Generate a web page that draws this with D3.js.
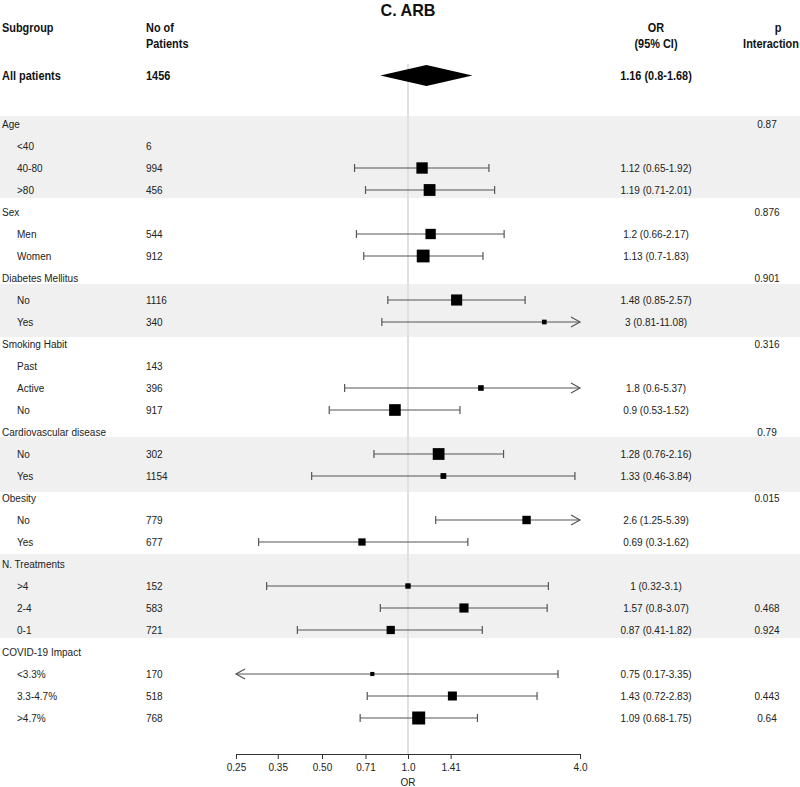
<!DOCTYPE html>
<html>
<head>
<meta charset="utf-8">
<script src="https://cdn.jsdelivr.net/npm/d3@7"></script>
<style>
  html, body { margin: 0; padding: 0; background: #fff; }
  svg { display: block; }
</style>
</head>
<body>
<svg id="chart" width="800" height="787"></svg>
<script>
// ---------------- DATA ----------------
const title = "C. ARB";
const subgroupLabels = ["Age","<40","40-80",">80","Sex","Men","Women","Diabetes Mellitus","No","Yes",
  "Smoking Habit","Past","Active","No","Cardiovascular disease","No","Yes","Obesity","No","Yes",
  "N. Treatments",">4","2-4","0-1","COVID-19 Impact","<3.3%","3.3-4.7%",">4.7%"];
const isGroupHeader = [1,0,0,0,1,0,0,1,0,0,1,0,0,0,1,0,0,1,0,0,1,0,0,0,1,0,0,0];
const nPatients = [null,6,994,456,null,544,912,null,1116,340,null,143,396,917,null,302,1154,null,779,677,null,152,583,721,null,170,518,768];
const orValues  = [null,null,1.12,1.19,null,1.2,1.13,null,1.48,3,null,null,1.8,0.9,null,1.28,1.33,null,2.6,0.69,null,1,1.57,0.87,null,0.75,1.43,1.09];
const ciLower   = [null,null,0.65,0.71,null,0.66,0.7,null,0.85,0.81,null,null,0.6,0.53,null,0.76,0.46,null,1.25,0.3,null,0.32,0.8,0.41,null,0.17,0.72,0.68];
const ciUpper   = [null,null,1.92,2.01,null,2.17,1.83,null,2.57,11.08,null,null,5.37,1.52,null,2.16,3.84,null,5.39,1.62,null,3.1,3.07,1.82,null,3.35,2.83,1.75];
const pInteraction = ["0.87","","","","0.876","","","0.901","","","0.316","","","","0.79","","","0.015","","","","","0.468","0.924","","","0.443","0.64"];
const shadedGroups = ["Age","Diabetes Mellitus","Cardiovascular disease","N. Treatments"];
const overallLabel = "All patients";
const overallN = 1456;
const overallOR = [1.16, 0.8, 1.68];
const tickValues = [0.25,0.35,0.5,0.71,1,1.41,4];
const tickLabels = ["0.25","0.35","0.50","0.71","1.0","1.41","4.0"];

// ---------------- LAYOUT ----------------
const svg = d3.select("#chart");
const W = 800, H = 787;
const bodyFont = "'Liberation Sans', Arial, sans-serif";
const headFont = "'Liberation Sans', Arial, sans-serif";
const textCol = "#222";
const narrow = 0.84;

const x = d3.scaleLog().base(2).domain([0.25, 4]).range([236, 580]);
const y = d3.scaleLinear().domain([0, 1]).range([124, 146]); // row index -> centre
const yOverall = 76;
const axisY = 754;
const colLabel = 2, colIndent = 17, colN = 146, colOR = 656, colP = 767, colPHead = 771;

// background bands (pixel extents per shaded group)
const bandExtents = {"Age":[116,198], "Diabetes Mellitus":[284,337], "Cardiovascular disease":[437,492], "N. Treatments":[554,638]};
shadedGroups.forEach(g => {
  const [t, b] = bandExtents[g];
  svg.append("rect").attr("x", 0).attr("y", t).attr("width", W).attr("height", b - t).attr("fill", "#f0f0f0");
});

// reference line at OR = 1
svg.append("line").attr("x1", x(1)).attr("x2", x(1)).attr("y1", 64).attr("y2", axisY)
  .attr("stroke", "#e0e0e0").attr("stroke-width", 2);

// condensed bold text helper
function bold(xp, yp, t, anchor, fs, sx) {
  svg.append("text")
    .attr("transform", `translate(${xp},${yp}) scale(${sx || narrow},1)`)
    .attr("text-anchor", anchor).attr("dominant-baseline", "central")
    .attr("font-family", headFont).attr("font-weight", "bold").attr("font-size", fs || 13).attr("fill", "#111")
    .text(t);
}

// title
bold(x(1), 10, title, "middle", 17, 0.95);

// headers
bold(colLabel, 28, "Subgroup", "start");
bold(colN, 28, "No of", "start");
bold(colN, 44, "Patients", "start");
bold(colOR, 28, "OR", "middle");
bold(colOR, 44, "(95% CI)", "middle");
bold(colPHead + 7, 28, "p", "middle");
bold(colPHead, 44, "Interaction", "middle");

// overall row
bold(colLabel, yOverall, overallLabel, "start");
bold(colN, yOverall, String(overallN), "start");
bold(colOR, yOverall, `${overallOR[0]} (${overallOR[1]}-${overallOR[2]})`, "middle");
const dh = 10.5, yd = 75.5;
svg.append("path")
  .attr("d", d3.line()([[x(overallOR[1]), yd],[x(overallOR[0]), yd - dh],[x(overallOR[2]), yd],[x(overallOR[0]), yd + dh]]) + "Z")
  .attr("fill", "#000");

// rows
const rows = subgroupLabels.map((lab, i) => ({
  i, lab, grp: isGroupHeader[i] === 1, n: nPatients[i], or: orValues[i], lo: ciLower[i], hi: ciUpper[i], p: pInteraction[i]
}));

const tg = svg.append("g").attr("font-family", bodyFont).attr("font-size", 10).attr("fill", textCol);
rows.forEach(r => {
  const yy = y(r.i);
  tg.append("text").attr("x", r.grp ? colLabel : colIndent).attr("y", yy).attr("dominant-baseline", "central").text(r.lab);
  if (r.n != null) tg.append("text").attr("x", colN).attr("y", yy).attr("dominant-baseline", "central").text(r.n);
  if (r.or != null) tg.append("text").attr("x", colOR).attr("y", yy).attr("text-anchor", "middle").attr("dominant-baseline", "central")
      .text(`${r.or} (${r.lo}-${r.hi})`);
  if (r.p) tg.append("text").attr("x", colP).attr("y", yy).attr("text-anchor", "middle").attr("dominant-baseline", "central").text(r.p);
});

// box size from inverse-variance weight
const est = rows.filter(r => r.or != null);
est.forEach(r => { const se = (Math.log(r.hi) - Math.log(r.lo)) / (2 * 1.96); r.w = 1 / (se * se); });
const size = d3.scaleSqrt().domain([0, d3.max(est, r => r.w)]).range([0, 13]);

const [xmin, xmax] = x.range();
const cg = svg.append("g").attr("stroke", "#555").attr("stroke-width", 1.2).attr("fill", "none");
est.forEach(r => {
  const yy = y(r.i);
  const x0 = Math.max(x(r.lo), xmin), x1 = Math.min(x(r.hi), xmax);
  cg.append("line").attr("x1", x0).attr("x2", x1).attr("y1", yy).attr("y2", yy);
  if (x(r.lo) < xmin) cg.append("path").attr("d", `M${x0 + 9},${yy - 5}L${x0},${yy}L${x0 + 9},${yy + 5}`);
  else cg.append("line").attr("x1", x0).attr("x2", x0).attr("y1", yy - 4).attr("y2", yy + 4);
  if (x(r.hi) > xmax) cg.append("path").attr("d", `M${x1 - 9},${yy - 5}L${x1},${yy}L${x1 - 9},${yy + 5}`);
  else cg.append("line").attr("x1", x1).attr("x2", x1).attr("y1", yy - 4).attr("y2", yy + 4);
});
svg.append("g").selectAll("rect").data(est).join("rect")
  .attr("x", r => x(r.or) - size(r.w) / 2).attr("y", r => y(r.i) - size(r.w) / 2)
  .attr("width", r => size(r.w)).attr("height", r => size(r.w)).attr("fill", "#000");

// axis
const axis = d3.axisBottom(x).tickValues(tickValues).tickFormat((d, i) => tickLabels[i]).tickSizeOuter(0).tickSize(5).tickPadding(5);
const ag = svg.append("g").attr("transform", `translate(0,${axisY})`).call(axis);
ag.select(".domain").attr("stroke", "#333");
ag.selectAll(".tick line").attr("stroke", "#333");
ag.selectAll(".tick text").attr("font-family", bodyFont).attr("font-size", 10).attr("fill", textCol);
svg.append("text").attr("x", x(1)).attr("y", 782).attr("text-anchor", "middle").attr("dominant-baseline", "central")
  .attr("font-family", bodyFont).attr("font-size", 10).attr("fill", textCol).text("OR");
</script>
</body>
</html>
